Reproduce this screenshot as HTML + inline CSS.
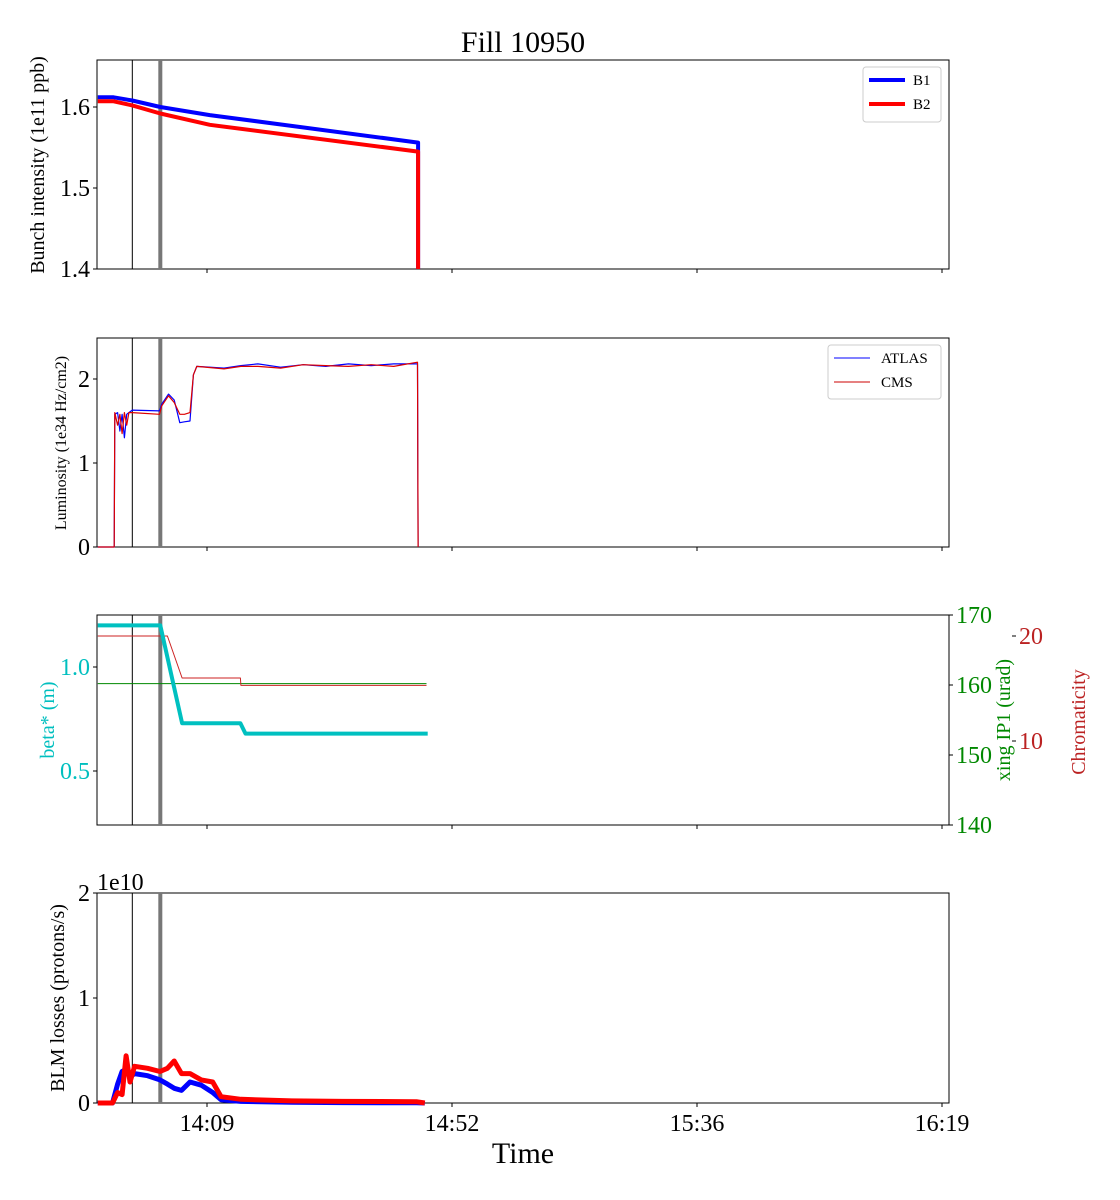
<!DOCTYPE html>
<html><head><meta charset="utf-8"><style>
body{margin:0;background:#fff;}
svg{display:block;font-family:"Liberation Serif",serif;}
</style></head><body>
<svg id="c" width="1120" height="1200"></svg>
<script>
// time in minutes since midnight
const tickMins=[849.0,892.3,935.6,978.9];
const tickLabels=["14:09","14:52","15:36","16:19"];
const markerThin=835.8, markerThick=840.75;
// panel 1: bunch intensity
const intT=[829.7,832.5,835.8,840.75,849.5,886.3,886.31];
const b1=[1.612,1.612,1.608,1.600,1.590,1.556,1.4];
const b2=[1.607,1.607,1.602,1.592,1.578,1.545,1.4];
// panel 2: luminosity
const lumT=[829.7,832.6,832.7,833.2,833.6,834.0,834.4,834.8,835.2,835.8,840.6,841.0,842.2,843.2,844.2,845.0,846.0,846.6,847.2,852,855,858,862,866,870,874,878,882,886.2,886.3];
const atlas=[0,0,1.58,1.6,1.38,1.58,1.3,1.58,1.6,1.63,1.62,1.7,1.82,1.75,1.48,1.49,1.5,2.05,2.15,2.13,2.16,2.18,2.14,2.17,2.15,2.18,2.16,2.18,2.18,0];
const cms=[0,0,1.6,1.45,1.58,1.35,1.6,1.45,1.6,1.6,1.58,1.68,1.8,1.72,1.58,1.58,1.6,2.05,2.15,2.12,2.15,2.15,2.13,2.17,2.16,2.15,2.17,2.15,2.2,0];
// panel 3
const betaT=[829.7,840.75,844.6,854.9,855.8,888.0];
const beta=[1.2,1.2,0.73,0.73,0.68,0.68];
const xingT=[829.7,887.8]; const xing=[160.2,160.2];
const chromT=[829.7,842.0,844.6,854.9,855.0,887.8];
const chrom=[20,20,16,16,15.3,15.3];
// panel 4: BLM losses (1e10)
const blmT=[829.7,832.3,833.2,834.0,834.7,835.4,836.2,838.5,840.7,842.0,843.2,844.5,846.0,848.0,850.0,851.5,855,864,873,886,887.5];
const blmB1=[0,0,0.18,0.3,0.32,0.25,0.28,0.26,0.22,0.18,0.14,0.12,0.2,0.17,0.1,0.03,0.015,0.008,0.004,0.002,0];
const blmB2=[0,0,0.1,0.08,0.45,0.2,0.35,0.33,0.3,0.33,0.4,0.28,0.28,0.22,0.2,0.06,0.035,0.02,0.015,0.012,0];

const NS="http://www.w3.org/2000/svg";
const svg=document.getElementById('c');
const X0=97,X1=949;
function xs(t){return 207+(t-849)*245/43.3;}
function el(tag,a,parent){const e=document.createElementNS(NS,tag);for(const k in a)e.setAttribute(k,a[k]);(parent||svg).appendChild(e);return e;}
function txt(s,a){const e=el('text',a);e.textContent=s;return e;}
function path(T,V,ys){return T.map((t,i)=>(i?'L':'M')+xs(t).toFixed(1)+','+ys(V[i]).toFixed(1)).join(' ');}
function frame(top,bot,name,showX){
  const r=el('rect',{x:X0,y:top,width:X1-X0,height:bot-top,fill:'none',stroke:'#000','stroke-width':1});
  
  tickMins.forEach((m,i)=>{const x=xs(m);el('line',{x1:x,x2:x,y1:bot,y2:bot+4,stroke:'#000'});
    if(showX){const t=txt(tickLabels[i],{x:x,y:bot+28,'font-size':24,'text-anchor':'middle'});
      }});
  const a=el('line',{x1:xs(markerThin),x2:xs(markerThin),y1:top,y2:bot,stroke:'#000','stroke-width':1});
  
  const b=el('line',{x1:xs(markerThick),x2:xs(markerThick),y1:top,y2:bot,stroke:'#777','stroke-width':4});
  
}
function yTicks(vals,labels,ys,side,color,fs){vals.forEach((v,i)=>{const y=ys(v);
  if(side==='l'){el('line',{x1:X0-4,x2:X0,y1:y,y2:y,stroke:'#000'});
    const t=txt(labels[i],{x:X0-7,y:y+8,'font-size':fs||24,'text-anchor':'end',fill:color||'#000'});}
  else{el('line',{x1:side,x2:side+4,y1:y,y2:y,stroke:'#000'});
    const t=txt(labels[i],{x:side+7,y:y+8,'font-size':fs||24,fill:color});}});}
function ylabel(s,x,y,fs,color,name){const t=txt(s,{x:x,y:y,'font-size':fs,'text-anchor':'middle',fill:color||'#000',transform:`rotate(-90 ${x} ${y})`});}
function line(T,V,ys,color,w,name){const p=el('path',{d:path(T,V,ys),fill:'none',stroke:color,'stroke-width':w,'stroke-linejoin':'round'});}

let t=txt('Fill 10950',{x:523,y:52,'font-size':30,'text-anchor':'middle'});


// Panel 1
const y1=v=>107-(v-1.6)*810;
frame(60,269,'intensity-panel',false);
yTicks([1.4,1.5,1.6],['1.4','1.5','1.6'],y1,'l');
ylabel('Bunch intensity (1e11 ppb)',44,165,20,'#000','y-axis-title-intensity');
line(intT,b1,y1,'#00f',4,'series-b1');
line(intT,b2,y1,'#f00',4,'series-b2');
let lg=el('g',{});
el('rect',{x:863,y:67,width:78,height:55,rx:3,fill:'#fff',stroke:'#ccc'},lg);
el('line',{x1:869,x2:905,y1:80,y2:80,stroke:'#00f','stroke-width':4},lg);
el('line',{x1:869,x2:905,y1:104,y2:104,stroke:'#f00','stroke-width':4},lg);
let e=el('text',{x:913,y:85,'font-size':15},lg);e.textContent='B1';
e=el('text',{x:913,y:109,'font-size':15},lg);e.textContent='B2';

// Panel 2
const y2=v=>547-v*84;
frame(338,547,'luminosity-panel',false);
yTicks([0,1,2],['0','1','2'],y2,'l');
ylabel('Luminosity (1e34 Hz/cm2)',66,443,16,'#000','y-axis-title-luminosity');
line(lumT,atlas,y2,'#00f',1.2,'series-atlas');
line(lumT,cms,y2,'#d00',1.2,'series-cms');
lg=el('g',{});
el('rect',{x:828,y:345,width:113,height:54,rx:3,fill:'#fff',stroke:'#ccc'},lg);
el('line',{x1:834,x2:870,y1:358,y2:358,stroke:'#00f','stroke-width':1},lg);
el('line',{x1:834,x2:870,y1:382,y2:382,stroke:'#c00','stroke-width':1},lg);
e=el('text',{x:881,y:363,'font-size':15},lg);e.textContent='ATLAS';
e=el('text',{x:881,y:387,'font-size':15},lg);e.textContent='CMS';

// Panel 3
const y3=v=>667-(v-1.0)*208;
const y3g=v=>615+(170-v)*7;
const y3r=v=>636+(20-v)*10.5;
frame(615,825,'optics-panel',false);
yTicks([0.5,1.0],['0.5','1.0'],y3,'l','#00bfbf');
yTicks([140,150,160,170],['140','150','160','170'],y3g,X1,'#080');
yTicks([10,20],['10','20'],y3r,1012,'#b22');
ylabel('beta* (m)',54,720,20,'#00bfbf','y-axis-title-beta');
ylabel('xing IP1 (urad)',1010,720,20,'#080','y-axis-title-xing');
ylabel('Chromaticity',1085,722,20,'#b22','y-axis-title-chromaticity');
line(xingT,xing,y3g,'#080',1,'series-xing');
line(chromT,chrom,y3r,'#c22',1,'series-chromaticity');
line(betaT,beta,y3,'#00c0c0',4,'series-beta');

// Panel 4
const y4=v=>1103-v*105;
frame(893,1103,'blm-panel',true);
yTicks([0,1,2],['0','1','2'],y4,'l');
t=txt('1e10',{x:97,y:890,'font-size':24});
ylabel('BLM losses (protons/s)',64,998,20,'#000','y-axis-title-blm');
line(blmT,blmB1,y4,'#00f',5,'series-blm-b1');
line(blmT,blmB2,y4,'#f00',5,'series-blm-b2');
t=txt('Time',{x:523,y:1163,'font-size':30,'text-anchor':'middle'});

</script>
</body></html>
